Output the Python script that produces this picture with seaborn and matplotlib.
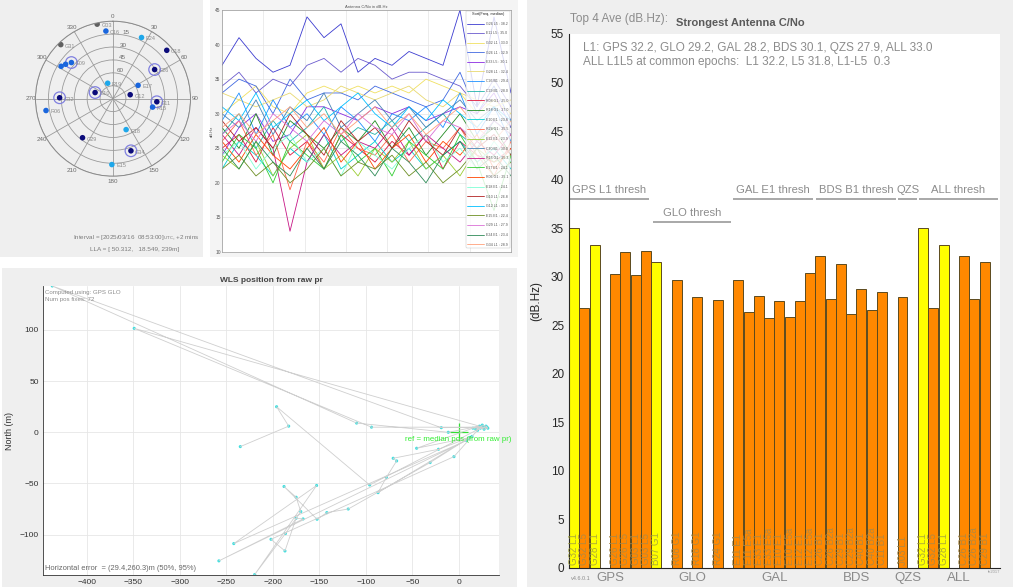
import numpy as np
import pandas as pd
import matplotlib
matplotlib.use("Agg")
import matplotlib.pyplot as plt
import seaborn as sns
from matplotlib.patches import Rectangle

# ---------------- data ----------------
# Right: strongest antenna C/No bar chart
bar_slots = [0, 1, 2, 4, 5, 6, 7, 8, 10, 12, 14, 16, 17, 18, 19, 20, 21, 22, 23,
             24, 25, 26, 27, 28, 29, 30, 32, 34, 35, 36, 38, 39, 40]
bar_values = [35.0, 26.8, 33.3, 30.3, 32.5, 30.2, 32.7, 31.5,
              29.7, 27.9, 27.6,
              29.7, 26.4, 28.0, 25.8, 27.5, 25.9, 27.5, 30.4,
              32.1, 27.7, 31.3, 26.2, 28.7, 26.6, 28.4,
              27.9,
              35.0, 26.8, 33.3, 32.1, 27.7, 31.5]
bar_labels = ["G32 L1", "G32 L5", "G28 L1", "G26 L1", "G26 L5", "G03 L1", "G03 L5", "B07 G1",
              "R08 G1", "R18 G1", "R24 G1",
              "E11 E1", "E11 E5a", "E33 E1", "E33 E5a", "E10 E1", "E10 E5a", "E12 E1", "E12 E5a",
              "C26 B1", "C26 B2a", "C29 B1", "C29 B2a", "C40 B1", "C40 B2a", "C11 B1",
              "J03 L1",
              "G32 L1", "G32 L5", "G28 L1", "C26 B1", "C26 B2a", "C29 B1"]
bar_kind = ["top", "other", "top", "other", "other", "other", "other", "top",
            "other", "other", "other",
            "other", "other", "other", "other", "other", "other", "other", "other",
            "other", "other", "other", "other", "other", "other", "other",
            "other",
            "top", "other", "top", "other", "other", "other"]
group_names = ["GPS", "GLO", "GAL", "BDS", "QZS", "ALL"]
group_centers = [3.5, 11.5, 19.5, 27.5, 32.5, 37.5]
thresh_names = ["GPS L1 thresh", "GLO thresh", "GAL E1 thresh", "BDS B1 thresh", "QZS", "ALL thresh"]
thresh_values = [38.0, 35.6, 38.0, 38.0, 38.0, 38.0]
thresh_start = [-0.5, 7.7, 15.5, 23.6, 31.6, 33.6]
thresh_end = [7.3, 15.3, 23.3, 31.4, 33.4, 41.3]

# Top-left: sky plot
sat_names = ["G03", "C16", "E24", "G18", "G31", "", "", "E09", "G26", "R19", "E17",
             "G10", "G12", "G32", "G11", "R15", "R06", "E18", "G29", "G34", "E15"]
sat_az = [348, 354, 25, 48, 316, 302, 306, 311, 55, 341, 62,
          289, 77, 271, 94, 102, 260, 157, 218, 161, 181]
sat_el = [1.5, 11, 11.6, 6, 2.7, 19, 22, 26, 31, 71, 57,
          68, 69.5, 28, 39, 43, 11, 51, 32.5, 26, 13.5]
sat_group = ["low", "mid", "light", "strong", "low", "mid", "mid", "mid", "strong", "light", "mid",
             "strong", "strong", "strong", "strong", "mid", "mid", "light", "strong", "strong", "light"]
sat_used = [0, 0, 0, 0, 0, 0, 0, 1, 1, 0, 0, 1, 0, 1, 1, 0, 0, 0, 0, 1, 0]

# Top-middle: C/No time series
epochs = list(range(18))
cn0_series = {
    "G26 L5 : 38.2": [37, 41, 38, 36, 37, 44, 41, 43, 36, 38, 37, 39, 38, 37, 45, 31, 44, 33],
    "E11 L5 : 35.0": [34, 36, 33, 35, 34, 37, 38, 36, 38, 37, 35, 36, 36, 35, 34, 31, 35, 31],
    "G32 L1 : 33.0": [30, 32, 34, 31, 30, 33, 34, 33, 34, 33, 34, 33, 35, 34, 33, 30, 32, 30],
    "G26 L1 : 32.9": [33, 35, 34, 30, 35, 32, 33, 33, 32, 34, 33, 32, 31, 32, 36, 30, 34, 29],
    "E33 L5 : 30.1": [24, 28, 30, 26, 27, 31, 31, 30, 29, 31, 30, 31, 29, 30, 31, 30, 33, 28],
    "G28 L1 : 32.4": [33, 32, 31, 32, 33, 31, 32, 34, 33, 32, 33, 34, 32, 31, 33, 32, 31, 32],
    "C26 B1 : 29.4": [29, 33, 27, 32, 28, 30, 27, 31, 29, 26, 30, 29, 31, 28, 33, 27, 31, 26],
    "C29 B1 : 28.0": [27, 30, 25, 29, 26, 28, 31, 26, 28, 27, 29, 26, 28, 30, 27, 25, 29, 27],
    "R08 G1 : 25.0": [25, 27, 23, 28, 24, 26, 22, 27, 25, 23, 26, 24, 27, 22, 26, 24, 23, 25],
    "R18 G1 : 27.0": [28, 25, 30, 24, 29, 27, 25, 28, 26, 29, 25, 28, 24, 27, 30, 26, 28, 24],
    "E10 E1 : 23.8": [22, 26, 24, 21, 25, 23, 27, 22, 24, 26, 23, 25, 22, 24, 26, 23, 25, 22],
    "R24 G1 : 25.5": [26, 29, 24, 27, 19, 26, 23, 28, 25, 24, 27, 23, 26, 25, 28, 24, 21, 26],
    "E12 E1 : 23.9": [24, 22, 26, 21, 25, 27, 22, 24, 21, 25, 23, 26, 22, 24, 21, 25, 23, 24],
    "C40 B1 : 30.0": [30, 28, 32, 27, 31, 29, 33, 28, 30, 32, 29, 31, 28, 30, 32, 29, 31, 28],
    "R15 G1 : 25.3": [27, 24, 28, 25, 13, 23, 27, 24, 26, 25, 28, 24, 27, 25, 23, 26, 24, 27],
    "E17 E1 : 24.1": [23, 27, 25, 20, 26, 24, 22, 27, 23, 25, 21, 26, 24, 22, 27, 23, 16, 24],
    "R06 G1 : 25.1": [26, 23, 27, 24, 22, 25, 28, 23, 26, 22, 25, 27, 23, 26, 24, 27, 22, 25],
    "E18 E1 : 24.1": [24, 26, 22, 25, 27, 23, 25, 21, 26, 24, 22, 25, 27, 23, 25, 22, 26, 23],
    "G10 L1 : 26.8": [29, 26, 28, 25, 30, 27, 24, 29, 26, 28, 25, 29, 26, 24, 28, 25, 27, 24],
    "G12 L1 : 30.3": [31, 29, 33, 28, 30, 32, 29, 31, 33, 30, 28, 31, 29, 32, 30, 28, 31, 29],
    "E15 E1 : 22.4": [22, 24, 21, 23, 20, 22, 25, 21, 23, 22, 24, 21, 23, 20, 22, 25, 21, 23],
    "G29 L1 : 27.9": [27, 29, 26, 30, 28, 26, 29, 27, 30, 28, 27, 30, 26, 29, 28, 26, 29, 27],
    "E24 E1 : 23.4": [25, 22, 26, 23, 21, 25, 22, 26, 24, 21, 25, 23, 20, 24, 26, 22, 24, 21],
    "G34 L1 : 28.9": [28, 30, 27, 29, 31, 28, 30, 27, 29, 31, 28, 30, 27, 29, 31, 28, 26, 29],
}
line_colors = ["#3b3bd0", "#6a5acd", "#f0e060", "#4169e1", "#8a2be2", "#e8d870", "#1e90ff",
               "#20b2aa", "#dc143c", "#228b22", "#00ced1", "#ff6347", "#9acd32", "#4682b4",
               "#c71585", "#32cd32", "#ff4500", "#7fffd4", "#b22222", "#00bfff", "#6b8e23",
               "#da70d6", "#2e8b57", "#ffa07a"]

# Bottom-left: WLS positions (East, North in m)
wls_east = [18, 30, -19, -437, -110, -11.5, 22, -349, -94, 26, 15, -45.5, 12, -22,
            -70.7, -67, -78, -87, 10, -31, -119, -142, -152.5, -188, -175, -170,
            -186.5, -219.5, -153, -242, 8, -258, -167.5, -175, -187, -202, -5.4,
            14, 20, 25, 29, 31, 27, 23, -96, -196, -183, -235]
wls_north = [3, 5, 4.5, 143, 9, 0, 6, 101.6, 5, 5, 4, -15.6, -5, -16.6,
             -25.4, -28, -44, -59, -6, -29.6, -75, -78.5, -85, -53, -63.5, -77.5,
             -99, -139, -52, -108.8, -8, -125.7, -84.7, -84, -116, -104.6, -23.8,
             -4, 2, 7, 6, 4, 3, 4, -51.5, 25, 6, -14]
ref_east = [0]
ref_north = [0]

# ---------------- figure ----------------
sns.set_style("white")
plt.rcParams["font.family"] = ["Liberation Sans", "DejaVu Sans"]

W, H = 1019, 587
fig = plt.figure(figsize=(W / 100, H / 100), dpi=100)
fig.patch.set_facecolor("white")


def box(x0, y0, x1, y1):
    return [x0 / W, 1 - y1 / H, (x1 - x0) / W, (y1 - y0) / H]


for (x0, y0, x1, y1, c) in [(0, 0, 203, 257, "#efefef"), (210, 0, 518, 257, "#f4f4f4"),
                            (2, 268, 517, 587, "#efefef"), (527, 0, 1013, 587, "#efefef")]:
    fig.add_artist(Rectangle((x0 / W, 1 - y1 / H), (x1 - x0) / W, (y1 - y0) / H,
                             transform=fig.transFigure, facecolor=c, edgecolor="none", zorder=-10))

# ---- bar chart ----
axb = fig.add_axes(box(569, 34, 1000, 568))
axb.set_facecolor("white")
dfb = pd.DataFrame({"slot": bar_slots, "cn0": bar_values, "kind": bar_kind})
sns.barplot(data=dfb, x="slot", y="cn0", hue="kind", palette={"top": "#ffff00", "other": "#ff8800"},
            native_scale=True, dodge=False, width=0.97, edgecolor="#5b4a1e", linewidth=0.7,
            saturation=1, errorbar=None, legend=False, ax=axb)
axb.set_xlim(-0.5, 41.5)
axb.set_ylim(0, 55)
axb.set_yticks(range(0, 56, 5))
axb.set_xticks(group_centers, group_names)
axb.tick_params(axis="x", length=0, pad=3, labelsize=9.5, labelcolor="#8a8a8a")
axb.tick_params(axis="y", direction="in", length=4, labelsize=8.5, labelcolor="#262626", color="#262626")
axb.set_xlabel("")
axb.set_ylabel("(dB.Hz)", fontsize=8.5, color="#262626", labelpad=6)
for sp in ["top", "right"]:
    axb.spines[sp].set_visible(False)
for sp in ["left", "bottom"]:
    axb.spines[sp].set_color("#262626")
    axb.spines[sp].set_linewidth(0.8)
for s, lab, k in zip(bar_slots, bar_labels, bar_kind):
    axb.text(s, 0.3, lab, rotation=90, ha="center", va="bottom", fontsize=7,
             color="#a8884a" if k == "other" else "#a0a040", alpha=0.85)
for name, v, a, b in zip(thresh_names, thresh_values, thresh_start, thresh_end):
    axb.hlines(v, a, b, color="#a8a8a8", lw=1.4)
    axb.text((a + b) / 2, v + 0.45, name, ha="center", va="bottom", fontsize=8.1, color="#8c8c8c")
axb.text(0.9, 54.2, "L1: GPS 32.2, GLO 29.2, GAL 28.2, BDS 30.1, QZS 27.9, ALL 33.0\n"
         "ALL L1L5 at common epochs:  L1 32.2, L5 31.8, L1-L5  0.3",
         ha="left", va="top", fontsize=8.5, color="#8c8c8c", linespacing=1.25)
fig.text(570 / W, 1 - 19 / H, "Top 4 Ave (dB.Hz):", fontsize=8.5, color="#8c8c8c", ha="left", va="center")
fig.text(740 / W, 1 - 23 / H, "Strongest Antenna C/No", fontsize=8, color="#5a5a5a",
         ha="center", va="center", fontweight="bold")
fig.text(571 / W, 1 - 578 / H, "v4.6.0.1", fontsize=4, color="#8c8c8c", ha="left", va="center")
fig.text(1000 / W, 1 - 572 / H, "fe2017", fontsize=3, color="#9a9a9a", ha="right", va="center")

# ---- sky plot ----
axp = fig.add_axes(box(35.5, 21.2, 190.5, 176.2), projection="polar")
axp.set_facecolor("none")
axp.set_theta_zero_location("N")
axp.set_theta_direction(-1)
dfs = pd.DataFrame({"th": np.deg2rad(sat_az), "zen": 90 - np.array(sat_el), "grp": sat_group,
                    "used": sat_used, "name": sat_names})
sns.scatterplot(data=dfs[dfs.used == 1], x="th", y="zen", s=70, facecolor="none",
                edgecolor="#8080e0", linewidth=0.9, legend=False, ax=axp)
sns.scatterplot(data=dfs, x="th", y="zen", hue="grp",
                palette={"low": "#606060", "mid": "#1a66dd", "light": "#1ea7ea", "strong": "#0b0b7a"},
                s=16, edgecolor="none", legend=False, ax=axp)
for th, z, nm in zip(dfs.th, dfs.zen, dfs.name):
    if nm:
        axp.annotate(nm, (th, z), xytext=(3, -1), textcoords="offset points", fontsize=4,
                     color="#8c8c8c", va="center", ha="left")
axp.set_ylim(0, 90)
axp.set_yticks([15, 30, 45, 60, 75, 90])
axp.set_yticklabels(["", "60", "45", "30", "15", ""], fontsize=4.5, color="#6a6a6a")
axp.set_rlabel_position(8)
axp.set_xticks(np.deg2rad(np.arange(0, 360, 30)))
axp.set_xticklabels([str(a) for a in range(0, 360, 30)], fontsize=4.5, color="#6a6a6a")
axp.tick_params(axis="x", pad=-7)
axp.grid(True, color="#9a9a9a", lw=0.6)
axp.spines["polar"].set_color("#8a8a8a")
axp.spines["polar"].set_linewidth(0.7)
axp.set_xlabel("")
axp.set_ylabel("")
fig.text(136 / W, 1 - 237 / H, r"Interval = [2025/03/16  08:53:00]$_{\mathrm{UTC}}$, +2 mins",
         fontsize=4.5, color="#7a7a7a", ha="center", va="center")
fig.text(135 / W, 1 - 250 / H, "LLA = [ 50.312,   18.549, 239m]", fontsize=4.6, color="#7a7a7a",
         ha="center", va="center")

# ---- C/No time series ----
axl = fig.add_axes(box(222, 10, 511, 252))
axl.set_facecolor("white")
sat_order = list(cn0_series.keys())
dfl = pd.DataFrame([(sat, e, v) for sat in sat_order for e, v in zip(epochs, cn0_series[sat])],
                   columns=["sat", "epoch", "cn0"])
sns.lineplot(data=dfl, x="epoch", y="cn0", hue="sat", hue_order=sat_order, palette=line_colors,
             lw=0.6, legend="full", ax=axl)
axl.set_xlim(0, 17)
axl.set_ylim(10, 45)
axl.set_xticks(np.linspace(0, 17, 8))
axl.set_xticklabels([])
axl.set_yticks(range(10, 46, 5))
axl.tick_params(axis="y", labelsize=3.5, labelcolor="#555555", direction="in", length=2, pad=1)
axl.tick_params(axis="x", direction="in", length=2)
axl.grid(True, color="#e4e4e4", lw=0.5)
axl.set_xlabel("")
axl.set_ylabel("dB.Hz", fontsize=3, color="#555555", labelpad=1)
axl.set_title("Antenna C/No in dB.Hz", fontsize=3, color="#555555", pad=1.5)
for sp in axl.spines.values():
    sp.set_color("#9a9a9a")
    sp.set_linewidth(0.5)
sns.move_legend(axl, "upper right", bbox_to_anchor=(1.0, 1.0), fontsize=2.6,
                title="Sort(Freq, median)", title_fontsize=2.8, frameon=True,
                labelspacing=1.55, handlelength=4.5, borderaxespad=0.2)
leg = axl.get_legend()
leg.get_frame().set_linewidth(0.3)
leg.get_frame().set_edgecolor("#aaaaaa")
for t in leg.get_texts():
    t.set_color("#555555")

# ---- WLS positions ----
axw = fig.add_axes(box(43, 286, 499, 575))
axw.set_facecolor("white")
sns.lineplot(x=wls_east, y=wls_north, sort=False, estimator=None, color="#cfcfcf", lw=0.6, ax=axw)
sns.scatterplot(x=wls_east, y=wls_north, color="#3fe0e0", s=5, edgecolor="none", ax=axw)
sns.scatterplot(x=ref_east, y=ref_north, marker="+", s=180, color="#33dd33", linewidth=0.9, ax=axw)
axw.set_xlim(-447, 43)
axw.set_ylim(-139.5, 143)
axw.set_xticks(range(-400, 1, 50))
axw.set_yticks([-100, -50, 0, 50, 100])
axw.tick_params(labelsize=6, labelcolor="#333333", direction="in", length=2.5, pad=3)
axw.grid(True, color="#e6e6e6", lw=0.6)
axw.set_xlabel("")
axw.set_ylabel("North (m)", fontsize=6.5, color="#333333")
axw.set_title("WLS position from raw pr", fontsize=6, fontweight="bold", color="#444444", pad=3)
for sp in ["top", "right"]:
    axw.spines[sp].set_visible(False)
for sp in ["left", "bottom"]:
    axw.spines[sp].set_color("#333333")
    axw.spines[sp].set_linewidth(0.6)
axw.text(-58, -7, "ref = median pos (from raw pr)", fontsize=5.7, color="#33ee33", ha="left", va="center")
axw.text(0.005, 0.985, "Computed using: GPS GLO\nNum pos fixes: 72", transform=axw.transAxes,
         fontsize=4.4, color="#8c8c8c", ha="left", va="top", linespacing=1.3)
axw.text(0.005, 0.01, "Horizontal error  = (29.4,260.3)m (50%, 95%)", transform=axw.transAxes,
         fontsize=5.4, color="#666666", ha="left", va="bottom")

fig.savefig("out.png", dpi=100, facecolor="white")
